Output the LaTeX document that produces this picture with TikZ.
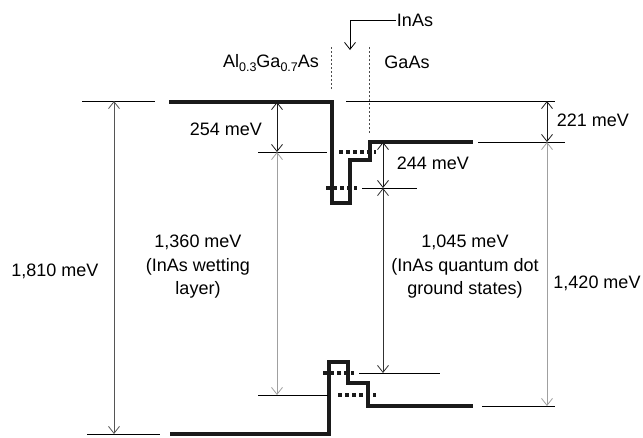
\documentclass[tikz,border=0pt]{standalone}
\usepackage{fontspec}
\setmainfont{Liberation Sans}
\usetikzlibrary{arrows.meta}
\definecolor{bandc}{HTML}{1A1A1A}
\definecolor{greyarr}{HTML}{A0A0A0}
\definecolor{midarr}{HTML}{555555}
\newcommand{\lowsub}[1]{\raisebox{-0.45ex}{\fontsize{12.5}{12.5}\selectfont #1}}
\begin{document}
\begin{tikzpicture}[x=1pt,y=-1pt,
  band/.style={line width=4pt, draw=bandc, line cap=butt, line join=miter},
  lvl/.style={line width=4pt, draw=bandc, dash pattern=on 4pt off 3pt},
  thinline/.style={line width=0.8pt},
  dashv/.style={line width=0.7pt, dash pattern=on 2pt off 2pt, draw=black!70},
  barb/.tip={Straight Barb[length=7pt,width=11pt]},
  dim/.style={line width=0.8pt, barb-barb},
  lbl/.style={font=\fontsize{18}{23.5}\selectfont, align=center, inner sep=1pt}]
\useasboundingbox (0,0) rectangle (643,437);

% band edges
\draw[band] (169,102) -- (332,102) -- (332,203) -- (350,203) -- (350,160) -- (370,160) -- (370,142) -- (473,142);
\draw[band] (170,434) -- (329,434) -- (329,362) -- (348,362) -- (348,383) -- (368,383) -- (368,406) -- (473,406);

% confined levels (dotted)
\draw[lvl] (339,152) -- (376,152);
\draw[lvl] (326,188) -- (357,188);
\draw[lvl] (323,373) -- (354,373);
\draw[lvl] (338,395) -- (376,395);

% layer boundaries (dashed)
\draw[dashv] (331,47) -- (331,90);
\draw[dashv] (369,47) -- (369,133);

% reference lines
\draw[thinline] (82,101) -- (155,101);
\draw[thinline] (87,434) -- (160,434);
\draw[thinline] (346,101) -- (555,101);
\draw[thinline] (478,142) -- (565,142);
\draw[thinline] (482,406) -- (555,406);
\draw[thinline] (258,152) -- (327,152);
\draw[thinline] (258,395) -- (328,395);
\draw[thinline] (362,188) -- (417,188);
\draw[thinline] (359,373) -- (440,373);

% coordinates for dimension arrows
\coordinate (a1) at (114,101);
\coordinate (a2) at (114,434);
\coordinate (b1) at (277,102);
\coordinate (b2) at (277,152);
\coordinate (b3) at (277,395);
\coordinate (c1) at (383,142);
\coordinate (c2) at (383,188);
\coordinate (c3) at (383,373);
\coordinate (d1) at (547,101);
\coordinate (d2) at (547,142);
\coordinate (d3) at (547,406);

\draw[dim, draw=midarr] (a1) -- (a2);
\draw[dim, draw=bandc] (b1) -- (b2);
\draw[dim, draw=greyarr] (b2) -- (b3);
\draw[dim, draw=bandc] (c1) -- (c2);
\draw[dim, draw=bandc!90] (c2) -- (c3);
\draw[dim, draw=bandc] (d1) -- (d2);
\draw[dim, draw=greyarr] (d2) -- (d3);

% labels
\node[lbl] (inas) at (415,20) {InAs};
\coordinate (inastip) at (350,50);
\draw[thinline, -barb] (inas.west) -| (inastip);
\node[lbl] (algaas) at (271,63) {Al\lowsub{0.3}Ga\lowsub{0.7}As};
\node[lbl] (gaas) at (407,62) {GaAs};
\node[lbl] (l221) at (593,120) {221 meV};
\node[lbl] (l254) at (226,129) {254 meV};
\node[lbl] (l244) at (433,163) {244 meV};
\node[lbl] (l1810) at (55,271) {1,810 meV};
\node[lbl] (l1360) at (198,267) {1,360 meV\\(InAs wetting\\layer)};
\node[lbl] (l1045) at (465,267) {1,045 meV\\(InAs quantum dot\\ground states)};
\node[lbl] (l1420) at (597,283) {1,420 meV};
\end{tikzpicture}
\end{document}
